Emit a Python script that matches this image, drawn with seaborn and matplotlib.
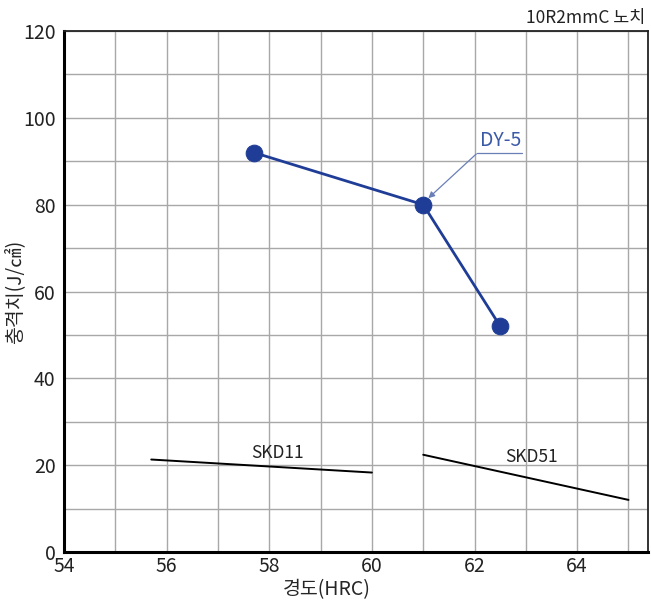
import matplotlib
matplotlib.use("Agg")
import matplotlib.pyplot as plt
import seaborn as sns
import pandas as pd

dy5_hrc = [57.7, 61.0, 62.5]
dy5_impact = [92, 80, 52]
skd11_hrc = [55.7, 60.0]
skd11_impact = [21.3, 18.3]
skd51_hrc = [61.0, 65.0]
skd51_impact = [22.4, 12.0]

xticks = [54, 56, 58, 60, 62, 64]
yticks = [0, 20, 40, 60, 80, 100, 120]

sns.set_theme(style="white")
plt.rcParams['font.family'] = ['Noto Sans CJK KR', 'DejaVu Sans']

fig = plt.figure(figsize=(6.51, 6.03), dpi=100)
ax = fig.add_axes([64/651, 1-552/603, (648-64)/651, (552-31)/603])

blue = "#1f3d96"
df = pd.DataFrame({"hrc": dy5_hrc, "impact": dy5_impact})
sns.lineplot(data=df, x="hrc", y="impact", ax=ax, color=blue, lw=2,
             marker="o", markersize=12, markeredgecolor=blue, zorder=5)
sns.lineplot(x=skd11_hrc, y=skd11_impact, ax=ax, color="black", lw=1.4, zorder=4)
sns.lineplot(x=skd51_hrc, y=skd51_impact, ax=ax, color="black", lw=1.4, zorder=4)

ax.set_xlim(54, 65.38)
ax.set_ylim(0, 120)
ax.set_xticks(range(54, 66), minor=False)
ax.set_xticklabels([str(v) if v in xticks else "" for v in range(54, 66)])
ax.set_yticks(range(0, 121, 10))
ax.set_yticklabels([str(v) if v in yticks else "" for v in range(0, 121, 10)])
ax.grid(True, color="#a8a8a8", lw=1)
ax.tick_params(axis="y", length=0, labelsize=14, colors="#222222", pad=6)
ax.tick_params(axis="x", length=0, labelsize=14, colors="#222222", pad=3)

for s in ["left", "bottom"]:
    ax.spines[s].set_linewidth(2.2)
    ax.spines[s].set_color("black")
for s in ["top", "right"]:
    ax.spines[s].set_linewidth(1.3)
    ax.spines[s].set_color("#222222")

ax.set_xlabel("경도(HRC)", fontsize=14)
ax.xaxis.set_label_coords((327-64)/584, -(579-552)/521)
ax.set_ylabel("충격치(J/㎠)", fontsize=14)
ax.yaxis.set_label_coords(-(64-25)/584, 0.5)

ax.text(57.65, 22.8, "SKD11", fontsize=12.5, color="#222222", va="center")
ax.text(62.6, 21.9, "SKD51", fontsize=12.5, color="#222222", va="center")

ax.annotate("DY-5", xy=(61.1, 81.5), xytext=(62.5, 94.8), fontsize=14,
            color="#3a5aa8", ha="center", va="center",
            arrowprops=dict(arrowstyle="-|>", color="#6a7fb8", lw=0.9,
                            shrinkA=0, shrinkB=0, mutation_scale=9,
                            relpos=(0.0, 0.0)))
ax.plot([62.05, 62.92], [92.0, 92.0], color="#6a7fb8", lw=0.9)

fig.text(645/651, 1-18/603, "10R2mmC 노치", fontsize=12.5, ha="right", va="center",
         color="#222222")

fig.savefig("out.png", dpi=100)
